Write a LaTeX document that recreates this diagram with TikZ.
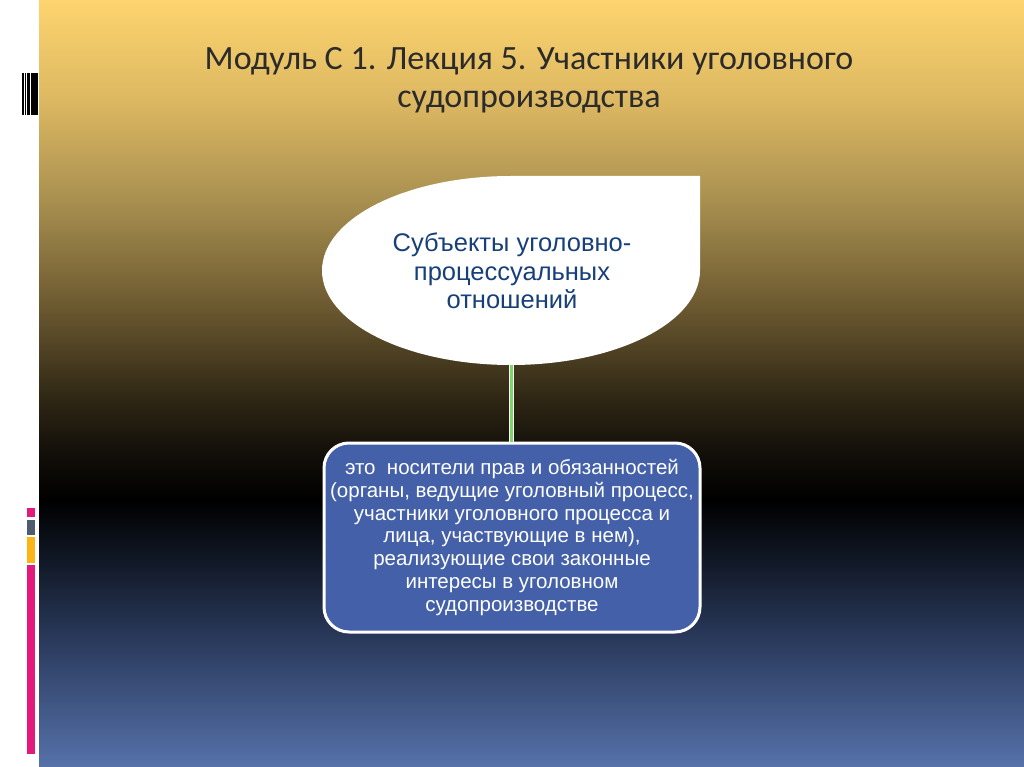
\documentclass[tikz,border=0pt]{standalone}
\usepackage{fontspec}
\setmainfont{Liberation Sans}
\newfontfamily\titlefont{Carlito}
\definecolor{bgA}{HTML}{FDD46E}
\definecolor{bgB}{HTML}{DDB862}
\definecolor{bgC}{HTML}{A99050}
\definecolor{bgD}{HTML}{6F5C32}
\definecolor{bgE}{HTML}{2E2614}
\definecolor{bgF}{HTML}{14100A}
\definecolor{bgG}{HTML}{000000}
\definecolor{bgH}{HTML}{111826}
\definecolor{bgI}{HTML}{2A3A5C}
\definecolor{bgJ}{HTML}{5672AA}
\definecolor{titlecol}{HTML}{2B2B2B}
\definecolor{navy}{HTML}{17407A}
\definecolor{boxblue}{HTML}{4360A8}
\definecolor{linkgreen}{HTML}{7CD66A}
\definecolor{mpink}{HTML}{E3197B}
\definecolor{mgray}{HTML}{4F5B6E}
\definecolor{myellow}{HTML}{FCB514}
\pgfdeclareverticalshading{slidebg}{100bp}{%
  color(0bp)=(bgJ);
  color(25bp)=(bgJ);
  color(33.28bp)=(bgI);
  color(38.49bp)=(bgH);
  color(42.4bp)=(bgG);
  color(45.67bp)=(bgF);
  color(48.92bp)=(bgE);
  color(55.44bp)=(bgD);
  color(61.96bp)=(bgC);
  color(68.48bp)=(bgB);
  color(75bp)=(bgA);
  color(100bp)=(bgA)}
\tikzset{
  titletext/.style={font=\titlefont\fontsize{34}{39}\selectfont, text=titlecol, align=center, inner sep=0pt},
  subjtext/.style={font=\fontsize{25.5}{28.6}\selectfont, text=navy, align=center, inner sep=0pt},
  defbox/.style={rectangle, rounded corners=25pt, fill=boxblue, draw=white, line width=3pt,
    minimum width=376pt, minimum height=189pt, text=white, align=center,
    font=\fontsize{20.5}{22.95}\selectfont, inner sep=0pt},
  leafbox/.style={rectangle, minimum width=378pt, minimum height=189pt, inner sep=0pt},
  barline/.style={fill=black},
}
\begin{document}
\begin{tikzpicture}[x=1pt,y=-1pt]
\useasboundingbox (0,0) rectangle (1024,767);
\fill[white] (0,0) rectangle (1024,767);
\shade[shading=slidebg] (39,0) rectangle (1024,767);
% barcode mark
\fill[barline] (22,73) rectangle (23.6,115);
\fill[barline] (24.8,73) rectangle (26.4,115);
\fill[barline] (27.4,73) rectangle (29.6,115);
\fill[barline] (30.6,73) rectangle (38,115);
% coloured marks
\fill[mpink] (26.7,508) rectangle (35,517);
\fill[mgray] (26.7,519.5) rectangle (35,534.5);
\fill[myellow] (26.7,537) rectangle (35,563);
\fill[mpink] (26.7,565) rectangle (35,754);
% title
\node[titletext, anchor=base] (t1) at (529,70) {Модуль С 1. Лекция 5. Участники уголовного};
\node[titletext, anchor=base] (t2) at (529,108) {судопроизводства};
% leaf shape
\fill[white] (511,176) -- (700,176) -- (700,270.5)
  arc[start angle=0, end angle=270, x radius=189, y radius=94.5] -- cycle;
\node[leafbox] (leaf) at (511.5,270.5) {};
\node[subjtext] (subj) at (512,271) {Субъекты уголовно-\\процессуальных\\отношений};
% definition box
\node[defbox] (def) at (512,537.5) {это\ \ носители прав и обязанностей\\(органы, ведущие уголовный процесс,\\участники уголовного процесса и\\лица, участвующие в нем),\\реализующие свои законные\\интересы в уголовном\\судопроизводстве};
% connector
\draw[white, line width=5pt] (leaf.south) -- (leaf.south |- def.north);
\draw[linkgreen, line width=2.5pt] (leaf.south) -- (leaf.south |- def.north);
\end{tikzpicture}
\end{document}
